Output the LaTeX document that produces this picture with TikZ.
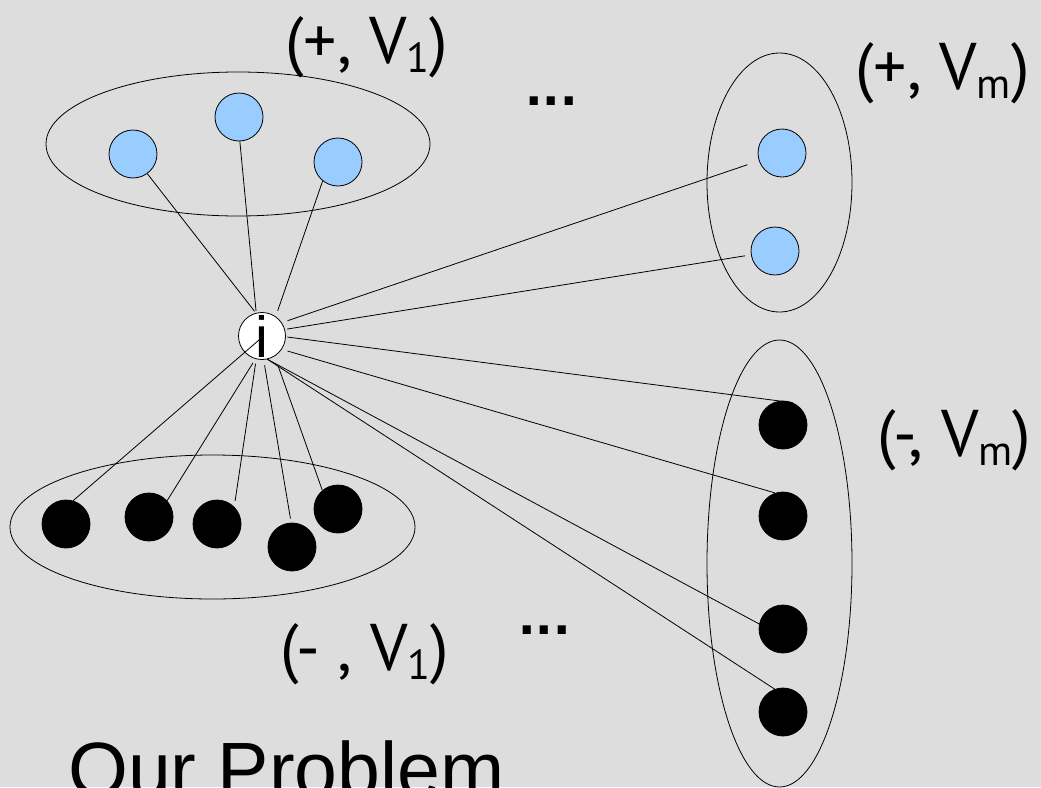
\documentclass[tikz,border=0pt]{standalone}
\usepackage{fontspec}
\setmainfont{Liberation Sans}
\newfontfamily\lblfont{PT Sans}
\newfontfamily\dotfont{DejaVu Sans Bold}
\usetikzlibrary{calc}
\definecolor{bg}{HTML}{DDDDDD}
\definecolor{lblue}{HTML}{99CCFF}
\newcommand{\lsub}[1]{\raisebox{-9pt}{\fontsize{42}{42}\selectfont #1}}
\begin{document}
\begin{tikzpicture}[x=1pt,y=-1pt,
  bluedot/.style={circle,draw=black,line width=0.8pt,fill=lblue,minimum size=48pt,inner sep=0pt},
  blackdot/.style={circle,draw=black,line width=0.8pt,fill=black,minimum size=48pt,inner sep=0pt},
  group/.style={draw=black,line width=0.8pt},
  link/.style={draw=black,line width=0.8pt},
  lbl/.style={anchor=base west,inner sep=0pt,font=\lblfont\fontsize{66}{66}\selectfont},
  dots/.style={anchor=center,inner sep=0pt,font=\dotfont\fontsize{46}{46}\selectfont},
  ]
\useasboundingbox (0,0) rectangle (1041,787);
\clip (0,0) rectangle (1041,787);
\fill[bg] (0,0) rectangle (1041,787);

% groups
\draw[group] (238,144) ellipse [x radius=192pt, y radius=72pt];
\draw[group] (779.5,182.5) ellipse [x radius=72.5pt, y radius=129.5pt];
\draw[group] (779.5,563.5) ellipse [x radius=72.5pt, y radius=223.5pt];
\draw[group] (212.5,527) ellipse [x radius=202.5pt, y radius=72pt];

% nodes
\node[bluedot] (c1) at (133,154) {};
\node[bluedot] (c2) at (239,117) {};
\node[bluedot] (c3) at (338,162) {};
\node[bluedot] (b1) at (782,153) {};
\node[bluedot] (b2) at (775,251) {};

\node[blackdot] (k1) at (66,524) {};
\node[blackdot] (k2) at (149,517) {};
\node[blackdot] (k3) at (217,524) {};
\node[blackdot] (k4) at (292,547) {};
\node[blackdot] (k5) at (338,509) {};

\node[blackdot] (r1) at (783,425) {};
\node[blackdot] (r2) at (783,516) {};
\node[blackdot] (r3) at (783,629) {};
\node[blackdot] (r4) at (783,712) {};

\node[circle,draw=black,line width=0.8pt,fill=white,minimum size=47pt,inner sep=0pt,
      font=\fontsize{58}{58}\selectfont] (i) at (262,336) {i};

% connectors
\draw[link,shorten <=2pt] (i.105) -- (c1.-54);
\draw[link,shorten <=2pt] (i.104) -- (c2.-88);
\draw[link,shorten <=6pt] (i.55) -- (c3.-129);
\draw[link,shorten <=6pt,shorten >=12pt] (i.34) -- (b1);
\draw[link,shorten <=2pt,shorten >=6pt] (i.16) -- (b2);
\draw[link,shorten <=1.5pt] (i.-2) -- (r1.66);
\draw[link,shorten <=6pt] (i.-34) -- (r2.109);
\draw[link] (i.-77) -- (r3.168);
\draw[link] (i.-77) -- (r4.110);
\draw[link] ([xshift=-3pt,yshift=-4pt]i.center) -- (k1.73);
\draw[link,shorten <=4.5pt] (i.-106) -- (k2.42);
\draw[link,shorten <=4.5pt,shorten >=6pt] (i.-104) -- (k3.45);
\draw[link,shorten <=5.5pt,shorten >=4pt] (i.-86) -- (k4.92);
\draw[link,shorten <=10pt] (i.-58) -- (k5.130);

% labels
\node[lbl] (lp1) at (285,63) {(+, V\lsub{1})};
\node[lbl] (lpm) at (855,89) {(+, V\lsub{m})};
\node[lbl] (lm1) at (280,670) {(- , V\lsub{1})};
\node[lbl] (lmm) at (877,456) {(-, V\lsub{m})};
\node[dots] (d1) at (551.5,101.5) {...};
\node[dots] (d2) at (544.5,630.5) {...};
\node[anchor=base west,inner sep=0pt,font=\fontsize{77}{77}\selectfont] (title) at (68,796) {Our Problem};
\end{tikzpicture}
\end{document}
